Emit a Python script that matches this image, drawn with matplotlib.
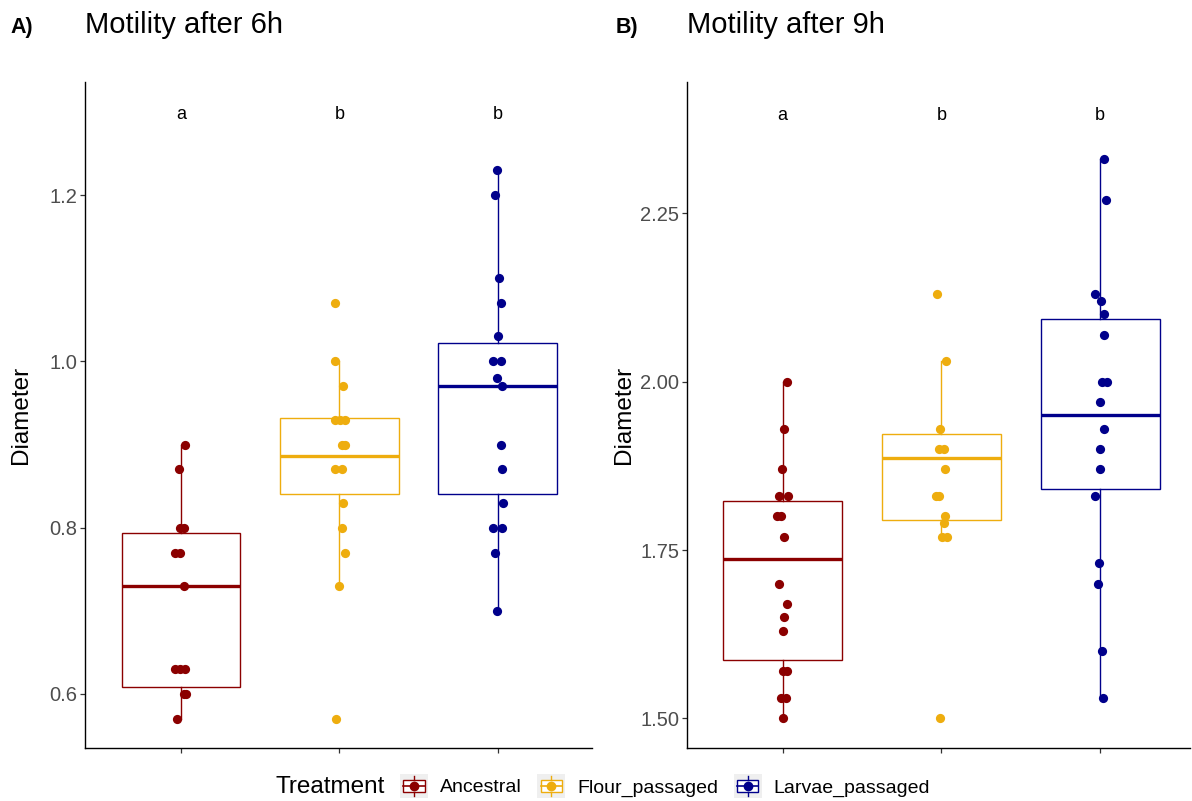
import matplotlib
matplotlib.use('Agg')
import matplotlib.pyplot as plt
from matplotlib.legend_handler import HandlerBase
from matplotlib.patches import Rectangle
from matplotlib.lines import Line2D

plt.rcParams['font.family'] = ['Liberation Sans', 'DejaVu Sans']

treatments = ['Ancestral', 'Flour_passaged', 'Larvae_passaged']
colors = ['#8B0000', '#EEAD0E', '#00008B']
letters = ['a', 'b', 'b']

# --- 6h: dot values and horizontal jitter (category units)
anc_6 = [0.90, 0.87, 0.80, 0.80, 0.77, 0.77, 0.73, 0.63, 0.63, 0.63, 0.60, 0.60, 0.57]
anc_6_jit = [0.023, -0.015, -0.006, 0.019, -0.036, -0.004, 0.021, -0.036, -0.004, 0.027, 0.017, 0.033, -0.025]
flo_6 = [1.07, 1.00, 0.97, 0.93, 0.93, 0.93, 0.90, 0.90, 0.87, 0.87, 0.83, 0.80, 0.77, 0.73, 0.57]
flo_6_jit = [-0.025, -0.025, 0.025, -0.025, 0.006, 0.038, 0.013, 0.038, -0.025, 0.019, 0.025, 0.019, 0.038, 0.0, -0.019]
lar_6 = [1.23, 1.20, 1.10, 1.07, 1.03, 1.00, 1.00, 0.98, 0.97, 0.90, 0.87, 0.83, 0.80, 0.80, 0.77, 0.70]
lar_6_jit = [-0.006, -0.019, 0.006, 0.019, 0.0, -0.032, 0.019, -0.006, 0.025, 0.019, 0.025, 0.032, -0.032, 0.025, -0.019, -0.006]

# box stats 6h: whislo, q1, med, q3, whishi
box_6 = [[0.57, 0.608, 0.730, 0.793, 0.90],
         [0.73, 0.841, 0.886, 0.932, 1.00],
         [0.70, 0.841, 0.970, 1.022, 1.23]]

# --- 9h
anc_9 = [2.00, 1.93, 1.87, 1.83, 1.83, 1.80, 1.80, 1.77, 1.70, 1.67, 1.65, 1.63, 1.57, 1.57, 1.53, 1.53, 1.50]
anc_9_jit = [0.030, 0.008, -0.006, -0.023, 0.036, -0.038, -0.013, 0.011, -0.023, 0.025, 0.011, 0.0, 0.004, 0.030, -0.013, 0.023, 0.0]
flo_9 = [2.13, 2.03, 1.93, 1.90, 1.90, 1.87, 1.83, 1.83, 1.80, 1.79, 1.77, 1.77, 1.50]
flo_9_jit = [-0.025, 0.030, -0.011, -0.017, 0.019, 0.021, -0.036, -0.017, 0.021, 0.017, 0.006, 0.038, -0.008]
lar_9 = [2.33, 2.27, 2.13, 2.12, 2.10, 2.07, 2.00, 2.00, 1.97, 1.93, 1.90, 1.87, 1.83, 1.73, 1.70, 1.60, 1.53]
lar_9_jit = [0.027, 0.038, -0.032, 0.006, 0.025, 0.025, 0.013, 0.042, 0.0, 0.025, 0.0, 0.0, -0.032, -0.006, -0.015, 0.015, 0.021]

box_9 = [[1.50, 1.586, 1.737, 1.8235, 2.00],
         [1.77, 1.794, 1.886, 1.923, 2.03],
         [1.53, 1.840, 1.951, 2.093, 2.33]]

panels = [
    dict(tag='A)', title='Motility after 6h', pts=[(anc_6, anc_6_jit), (flo_6, flo_6_jit), (lar_6, lar_6_jit)],
         box=box_6, ylim=(0.535, 1.336), xlim=(0.394, 3.594), yticks=[0.6, 0.8, 1.0, 1.2], fmt='{:.1f}',
         letter_y=1.297, rect=[85, 82, 592, 748], tagx=10),
    dict(tag='B)', title='Motility after 9h', pts=[(anc_9, anc_9_jit), (flo_9, flo_9_jit), (lar_9, lar_9_jit)],
         box=box_9, ylim=(1.456, 2.445), xlim=(0.397, 3.567), yticks=[1.50, 1.75, 2.00, 2.25], fmt='{:.2f}',
         letter_y=2.395, rect=[687, 82, 1190, 748], tagx=616),
]

W, H = 1192, 801
fig = plt.figure(figsize=(W / 100, H / 100), dpi=100)

for p in panels:
    l, t, r, b = p['rect']
    ax = fig.add_axes([l / W, 1 - b / H, (r - l) / W, (b - t) / H])
    for i, (vals, jit) in enumerate(p['pts']):
        c = colors[i]
        wlo, q1, med, q3, whi = p['box'][i]
        st = dict(med=med, q1=q1, q3=q3, whislo=wlo, whishi=whi, fliers=[])
        ax.bxp([st], positions=[i + 1], widths=0.75, showcaps=False, showfliers=False,
               patch_artist=True,
               boxprops=dict(facecolor='white', edgecolor=c, linewidth=1.0),
               whiskerprops=dict(color=c, linewidth=1.0),
               medianprops=dict(color=c, linewidth=2.4))
        ax.scatter([i + 1 + j for j in jit], vals, s=44, color=c, zorder=3, linewidths=0)
        ax.text(i + 1, p['letter_y'], letters[i], ha='center', va='center', fontsize=13, color='black')
    ax.set_xlim(*p['xlim'])
    ax.set_ylim(*p['ylim'])
    ax.set_xticks([1, 2, 3])
    ax.set_xticklabels([])
    ax.set_yticks(p['yticks'])
    ax.set_yticklabels([p['fmt'].format(v) for v in p['yticks']])
    ax.tick_params(length=3.5, width=0.9, color='#333333', labelcolor='#4D4D4D', labelsize=14.5, pad=2)
    for s in ['top', 'right']:
        ax.spines[s].set_visible(False)
    for s in ['left', 'bottom']:
        ax.spines[s].set_linewidth(1.0)
        ax.spines[s].set_color('black')
    ax.set_ylabel('Diameter', fontsize=17.5, va='center')
    ax.yaxis.set_label_coords(-0.126, 0.5)
    fig.text(l / W, 1 - 33 / H, p['title'], fontsize=21, va='baseline', ha='left')
    fig.text(p['tagx'] / W, 1 - 33 / H, p['tag'], fontsize=15.5, fontweight='bold', va='baseline', ha='left')


class BoxKey(HandlerBase):
    def create_artists(self, legend, orig_handle, xdescent, ydescent, width, height, fontsize, trans):
        c = orig_handle.get_color()
        x0, y0 = -xdescent, -ydescent
        xm, ym = x0 + width / 2, y0 + height / 2
        bg = Rectangle((x0, y0), width, height, facecolor='#EFEFEF', edgecolor='none', transform=trans)
        box = Rectangle((x0 + 0.12 * width, y0 + 0.24 * height), 0.76 * width, 0.52 * height,
                        facecolor='white', edgecolor=c, lw=1.0, transform=trans)
        w1 = Line2D([xm, xm], [y0 + 0.05 * height, y0 + 0.24 * height], color=c, lw=1.0, transform=trans)
        w2 = Line2D([xm, xm], [y0 + 0.76 * height, y0 + 0.95 * height], color=c, lw=1.0, transform=trans)
        md = Line2D([x0 + 0.12 * width, x0 + 0.88 * width], [ym, ym], color=c, lw=1.2, transform=trans)
        dot = Line2D([xm], [ym], marker='o', ms=6, color=c, ls='none', transform=trans)
        return [bg, box, w1, w2, md, dot]


handles = [Line2D([], [], color=c) for c in colors]
fig.text(275 / W, 1 - 787 / H, 'Treatment', fontsize=17.5, va='center', ha='left')
fig.legend(handles, treatments, handler_map={Line2D: BoxKey()}, loc='center left',
           bbox_to_anchor=(400 / W, 1 - 786 / H), ncol=3, frameon=False, fontsize=14,
           handlelength=1.45, handleheight=1.45, handletextpad=0.6, columnspacing=0.8,
           borderpad=0, borderaxespad=0)

fig.savefig('out.png', dpi=100)
